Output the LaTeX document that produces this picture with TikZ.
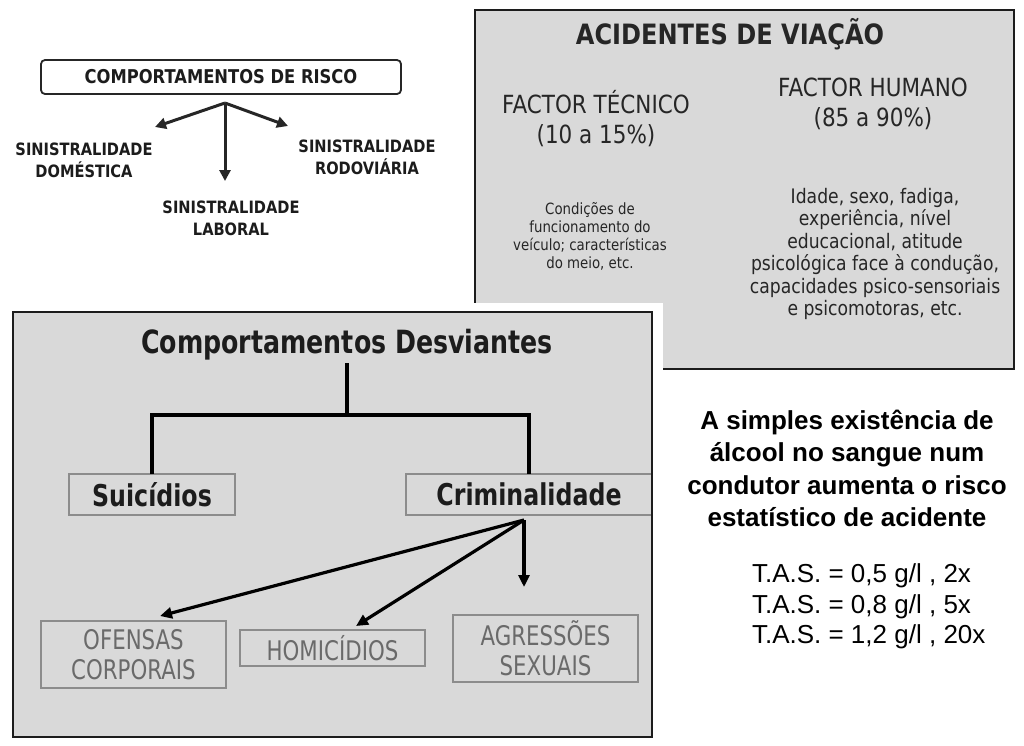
\documentclass[tikz,border=0pt]{standalone}
\usepackage{fontspec}
\usetikzlibrary{arrows.meta}
\newfontfamily\tah[FakeStretch=0.86]{DejaVu Sans}
\newfontfamily\tahc[FakeStretch=0.79]{DejaVu Sans}
\newfontfamily\ari{Liberation Sans}
\definecolor{boxgray}{HTML}{D9D9D9}
\definecolor{ink}{HTML}{1C1C1C}
\definecolor{dark}{HTML}{262626}
\definecolor{soft}{HTML}{6A6A6A}
\definecolor{edge}{HTML}{8C8C8C}
\newcommand\fs[2]{\fontsize{#1}{#2}\selectfont}
\begin{document}
\begin{tikzpicture}[x=1pt,y=-1pt,
  every node/.style={inner sep=0pt,outer sep=0pt},
  riskarrow/.style={draw=dark,line width=3pt,-{Triangle[length=11pt,width=11pt]}},
  critarrow/.style={draw=black,line width=3.2pt,-{Triangle[length=12pt,width=11pt]}},
  tree/.style={draw=black,line width=4pt},
  capsmall/.style={font=\tah\bfseries\fs{17}{22},text=ink,align=center},
  panel/.style={fill=boxgray,draw=ink,line width=2pt},
  softbox/.style={draw=edge,line width=1.5pt,fill=boxgray,minimum width=185pt,text=soft,font=\tahc\fs{27}{30},align=center},
  catbox/.style={draw=edge,line width=1.2pt,fill=boxgray,minimum height=41pt,text=ink,font=\tahc\bfseries\fs{30}{32}}
]
\useasboundingbox (0,0) rectangle (1024,745);
\fill[white] (0,0) rectangle (1024,745);

% ---------- top left ----------
\node[draw=dark,line width=1.8pt,rounded corners=4pt,fill=white,minimum width=360pt,minimum height=34pt,
      font=\tah\bfseries\fs{19}{22},text=ink] (risco) at (221,77) {COMPORTAMENTOS DE RISCO};
\coordinate (fork) at (225,103);
\coordinate (tipL) at (155,127);
\coordinate (tipR) at (288,126);
\coordinate (tipD) at (225,181);
\draw[riskarrow] (fork) -- (tipL);
\draw[riskarrow] (fork) -- (tipR);
\draw[riskarrow] (fork) -- (tipD);
\node[capsmall] (dom) at (84,160) {SINISTRALIDADE\\DOMÉSTICA};
\node[capsmall] (rod) at (367,157) {SINISTRALIDADE\\RODOVIÁRIA};
\node[capsmall] (lab) at (231,218) {SINISTRALIDADE\\LABORAL};

% ---------- top right panel ----------
\draw[panel] (475,10) rectangle (1014,369);
\node[font=\tah\bfseries\fs{28}{32},text=dark] (acid) at (730,34) {ACIDENTES DE VIAÇÃO};
\node[font=\tah\fs{25}{30},text=dark,align=center] (tec) at (596,119) {FACTOR TÉCNICO\\(10 a 15\%)};
\node[font=\tah\fs{25}{30},text=dark,align=center] (hum) at (873,104) {FACTOR HUMANO\\(85 a 90\%)};
\node[font=\tah\fs{15.5}{18},text=dark,align=center] (tecd) at (590,236) {Condições de\\funcionamento do\\veículo; características\\do meio, etc.};
\node[font=\tah\fs{20}{22.4},text=dark,align=center] (humd) at (875,254) {Idade, sexo, fadiga,\\experiência, nível\\educacional, atitude\\psicológica face à condução,\\capacidades psico-sensoriais\\e psicomotoras, etc.};

% ---------- bottom left panel ----------
\fill[white] (0,303) rectangle (663,745);
\fill[boxgray] (13,312) rectangle (652,737);
\node[font=\tahc\bfseries\fs{32}{34},text=ink] (desv) at (347,345) {Comportamentos Desviantes};
\node[catbox,minimum width=166pt] (suic) at (152,494.5) {Suicídios};
\node[catbox,minimum width=246pt] (crim) at (529,494.5) {Criminalidade};
\coordinate (join) at (347,415);
\draw[tree] (desv.south) ++(0,3) coordinate (dtop) -- (join);
\draw[tree] (suic.north) -- (suic.north |- join) -- (crim.north |- join) -- (crim.north);

\node[softbox,minimum height=67pt] (ofe) at (133.5,654.5) {OFENSAS\\CORPORAIS};
\node[softbox,minimum height=36pt] (hom) at (332.5,648) {HOMICÍDIOS};
\node[softbox,minimum height=67pt] (agr) at (545.5,648.5) {AGRESSÕES\\SEXUAIS};
\coordinate (cstart) at (524,520);
\coordinate (tipO) at (160,616);
\coordinate (tipH) at (356,626);
\coordinate (tipA) at (524,587);
\draw[critarrow] (cstart) -- (tipO);
\draw[critarrow] (cstart) -- (tipH);
\draw[critarrow] (cstart) -- (tipA);
\draw[ink,line width=2.5pt] (13,312) rectangle (652,737);

% ---------- right text ----------
\node[font=\ari\bfseries\fs{26}{32.3},text=black,align=center] (alc) at (847,468.5)
  {A simples existência de\\álcool no sangue num\\condutor aumenta o risco\\estatístico de acidente};
\node[font=\ari\fs{26}{30.5},text=black,align=left,anchor=west] (tas) at (752,606.5)
  {T.A.S. = 0,5 g/l , 2x\\T.A.S. = 0,8 g/l , 5x\\T.A.S. = 1,2 g/l , 20x};
\end{tikzpicture}
\end{document}
